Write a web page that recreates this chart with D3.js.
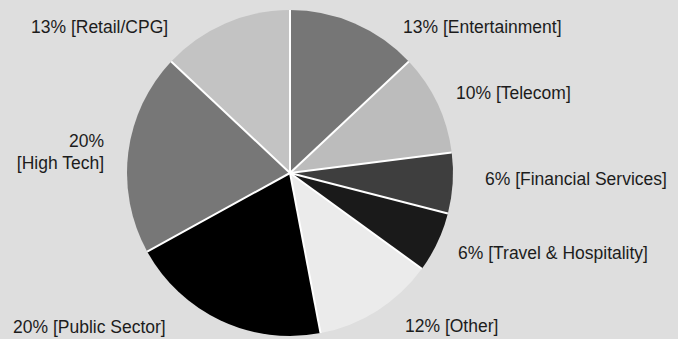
<!DOCTYPE html>
<html>
<head>
<meta charset="utf-8">
<script src="https://cdn.jsdelivr.net/npm/d3@7"></script>
<style>
  html, body { margin: 0; padding: 0; background: #dedede; }
  svg { display: block; }
  text { font-family: "Liberation Sans", Arial, Helvetica, sans-serif; fill: #1c1c1c; }
</style>
</head>
<body>
<svg id="chart" width="678" height="339"></svg>
<script>
// Industry share, clockwise from 12 o'clock
const categories = ["Entertainment", "Telecom", "Financial Services", "Travel & Hospitality",
                    "Other", "Public Sector", "High Tech", "Retail/CPG"];
const shares = [13, 10, 6, 6, 12, 20, 20, 13];

const fills = ["#767676", "#bcbcbc", "#3e3e3e", "#1a1a1a", "#ebebeb", "#000000", "#777777", "#c3c3c3"];

// Label placement: [x, y, anchor, lines]
const labelPlacement = {
  "Entertainment":        {x: 403, y: 33,  anchor: "start"},
  "Telecom":              {x: 456, y: 99,  anchor: "start"},
  "Financial Services":   {x: 485, y: 185, anchor: "start"},
  "Travel & Hospitality": {x: 458, y: 259, anchor: "start"},
  "Other":                {x: 405, y: 332, anchor: "start"},
  "Public Sector":        {x: 13,  y: 333, anchor: "start"},
  "High Tech":            {x: 104, y: 147, anchor: "end", split: true},
  "Retail/CPG":           {x: 31,  y: 33,  anchor: "start"}
};

const data = categories.map((c, i) => ({name: c, value: shares[i], fill: fills[i]}));

const svg = d3.select("#chart");
const cx = 290, cy = 173, r = 163;

const pie = d3.pie().sort(null).value(d => d.value);
const arcs = pie(data);
const arc = d3.arc().innerRadius(0).outerRadius(r);

const g = svg.append("g").attr("transform", `translate(${cx},${cy})`);

g.selectAll("path.slice")
  .data(arcs)
  .join("path")
  .attr("class", "slice")
  .attr("d", arc)
  .attr("fill", d => d.data.fill);

// white separators along each slice boundary
g.selectAll("line.sep")
  .data(arcs)
  .join("line")
  .attr("class", "sep")
  .attr("x1", 0).attr("y1", 0)
  .attr("x2", d => r * Math.sin(d.startAngle))
  .attr("y2", d => -r * Math.cos(d.startAngle))
  .attr("stroke", "#ffffff")
  .attr("stroke-width", 2);

// labels
const fontSize = 17.5;
arcs.forEach(d => {
  const p = labelPlacement[d.data.name];
  const pct = `${d.data.value}%`;
  const name = `[${d.data.name}]`;
  const t = svg.append("text")
    .attr("x", p.x).attr("y", p.y)
    .attr("text-anchor", p.anchor)
    .attr("font-size", fontSize);
  if (p.split) {
    t.append("tspan").attr("x", p.x).text(pct);
    t.append("tspan").attr("x", p.x).attr("dy", 22).text(name);
  } else {
    t.text(`${pct} ${name}`);
  }
});
</script>
</body>
</html>
